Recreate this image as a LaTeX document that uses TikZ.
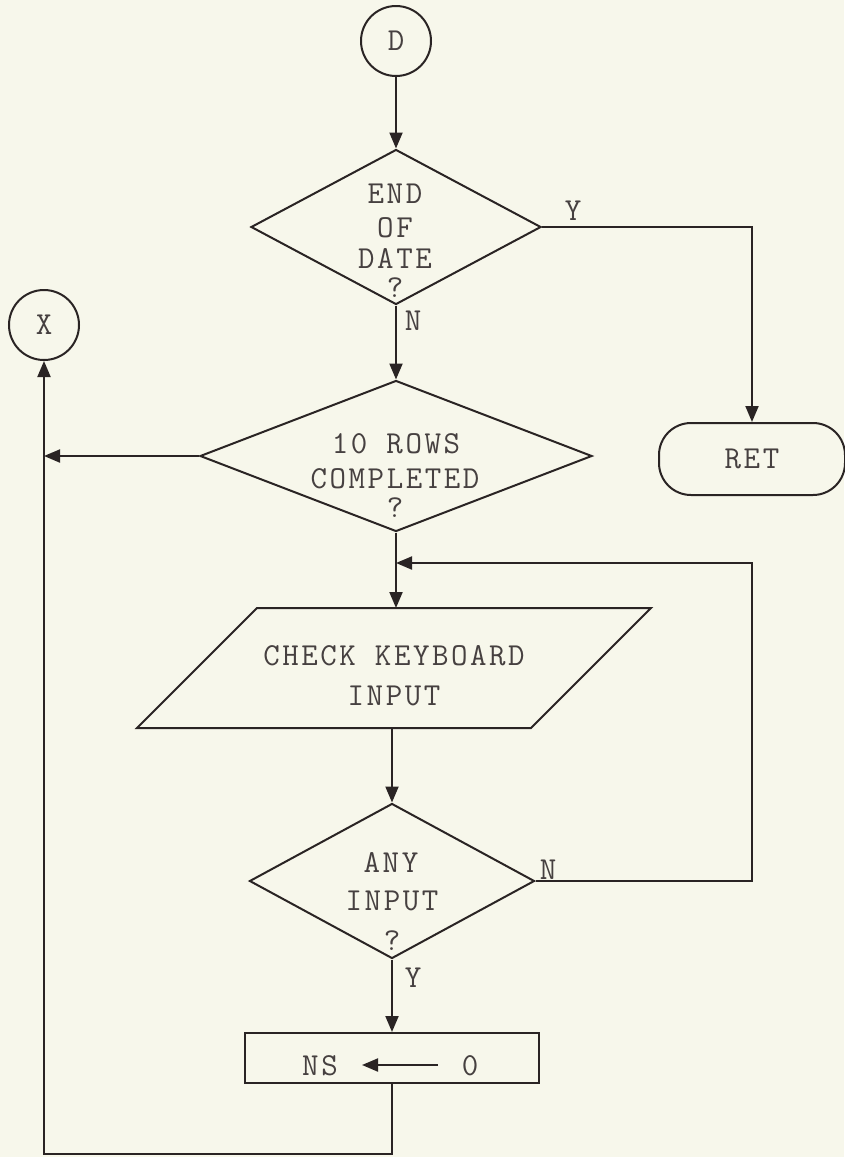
\documentclass[tikz,border=0pt]{standalone}
\usepackage{fontspec}
\usetikzlibrary{shapes.geometric,arrows.meta}
\newfontfamily\tw{Latin Modern Mono}[LetterSpace=8]
\definecolor{bg}{RGB}{247,247,235}
\definecolor{ink}{RGB}{42,36,36}
\definecolor{txt}{RGB}{70,64,64}
\tikzset{
  ln/.style={draw=ink, line width=2pt},
  arr/.style={ln, -{Triangle[length=16pt,width=13pt]}},
  conn/.style={circle, draw=ink, line width=2pt, minimum size=70pt, inner sep=0pt, text=txt, font=\tw\fontsize{32}{38}\selectfont},
  dec/.style={diamond, draw=ink, line width=2pt, inner sep=0pt},
  term/.style={rectangle, rounded corners=32pt, draw=ink, line width=2pt, minimum width=186pt, minimum height=72pt, text=txt, font=\tw\fontsize{32}{38}\selectfont},
  proc/.style={rectangle, draw=ink, line width=2pt, minimum width=294pt, minimum height=50pt, inner sep=0pt},
  lbl/.style={text=txt, font=\tw\fontsize{32}{38}\selectfont, inner sep=0pt, anchor=base},
}
\begin{document}
\begin{tikzpicture}[x=1pt,y=-1pt]
\fill[bg] (0,0) rectangle (844,1157);
\useasboundingbox (0,0) rectangle (844,1157);

% nodes
\node[conn] (D) at (396,41) {D};
\node[conn] (X) at (44,325) {X};
\node[dec, minimum width=290pt, minimum height=155pt] (d1) at (396,227) {};
\node[dec, minimum width=392pt, minimum height=151pt] (d2) at (396,456) {};
\node[term] (ret) at (752,459) {RET};
\node[rectangle, draw=none, minimum width=394pt, minimum height=120pt, outer sep=0pt, inner sep=0pt] (pg) at (394,668) {};
\draw[ln, line join=miter] ([xshift=60pt]pg.north west) -- ([xshift=60pt]pg.north east)
   -- ([xshift=-60pt]pg.south east) -- ([xshift=-60pt]pg.south west) -- cycle;
\node[dec, minimum width=285pt, minimum height=155pt] (d3) at (392,881) {};
\node[proc] (r) at (392,1058) {};

% texts
\node[lbl] (t1a) at (395,203) {END};
\node[lbl] (t1b) at (395,237) {OF};
\node[lbl] (t1c) at (395,268) {DATE};
\node[lbl] (t1d) at (395,297) {?};
\node[lbl] (y1) at (573,220) {Y};
\node[lbl] (n1) at (413,330) {N};
\node[lbl] (t2a) at (396,453) {10 ROWS};
\node[lbl] (t2b) at (395,488) {COMPLETED};
\node[lbl] (t2c) at (395,517) {?};
\node[lbl] (tpa) at (394,665) {CHECK KEYBOARD};
\node[lbl] (tpb) at (394,705) {INPUT};
\node[lbl] (t3a) at (391,872) {ANY};
\node[lbl] (t3b) at (392,910) {INPUT};
\node[lbl] (t3c) at (392,950) {?};
\node[lbl] (n3) at (548,879) {N};
\node[lbl] (y3) at (413,987) {Y};
\node[lbl] (tns) at (320,1075) {NS};
\node[lbl] (tz) at (470,1075) {0};
\coordinate (a0) at (438,1065);
\coordinate (aNS) at (362,1065);
\draw[arr] (a0) -- (aNS);

% connectors
\coordinate (fbr) at (752,563);
\coordinate (bl) at (44,1154);
\draw[arr] (D.south) -- (d1.north);
\draw[arr] (d1.east) -| (ret.north);
\draw[arr] (d1.south) -- (d2.north);
\draw[arr] (d2.west) -- (d2.west -| X.south);
\draw[arr] (d2.south) -- (d2.south |- pg.north);
\draw[arr] (d3.north |- pg.south) -- (d3.north);
\draw[arr, line join=miter] (d3.east) -| (fbr) -- (d2.south |- fbr);
\draw[arr] (d3.south) -- (r.north);
\draw[arr, line join=miter] (r.south) |- (bl) -- (X.south);
\end{tikzpicture}
\end{document}
